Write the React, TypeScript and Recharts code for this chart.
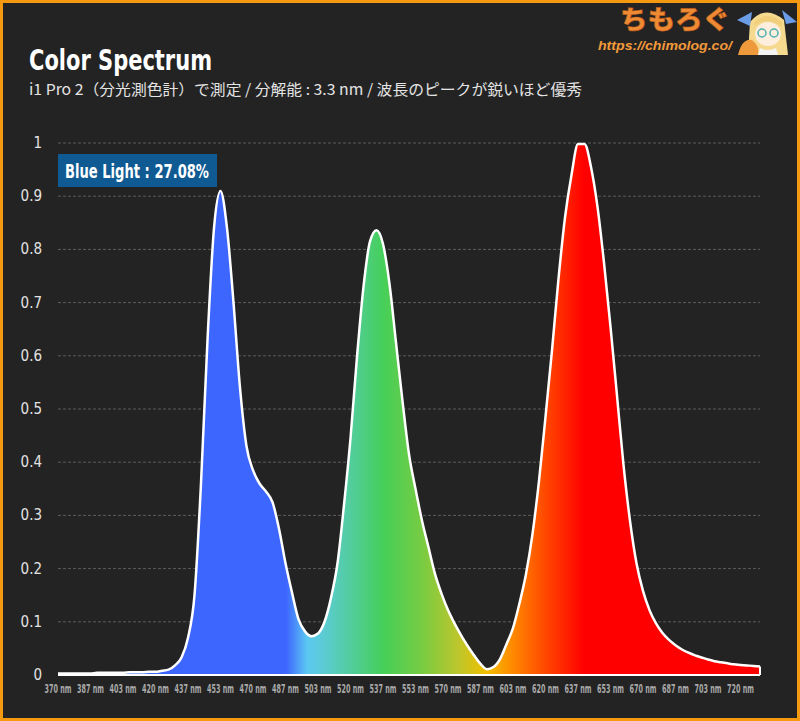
import React from 'react';
import { AreaChart, Area, XAxis, YAxis, CartesianGrid, ReferenceLine } from 'recharts';

const wavelengths = [
  370, 373.33, 376.67, 380, 383.33, 386.67, 390, 393.33, 396.67, 400,
  403.33, 406.67, 410, 413.33, 416.67, 420, 423.33, 426.67, 430, 433.33,
  436.67, 440, 443.33, 446.67, 450, 453.33, 456.67, 460, 463.33, 466.67,
  470, 473.33, 476.67, 480, 483.33, 486.67, 490, 493.33, 496.67, 500,
  503.33, 506.67, 510, 513.33, 516.67, 520, 523.33, 526.67, 530, 533.33,
  536.67, 540, 543.33, 546.67, 550, 553.33, 556.67, 560, 563.33, 566.67,
  570, 573.33, 576.67, 580, 583.33, 586.67, 590, 593.33, 596.67, 600,
  603.33, 606.67, 610, 613.33, 616.67, 620, 623.33, 626.67, 630, 633.33,
  636.67, 640, 643.33, 646.67, 650, 653.33, 656.67, 660, 663.33, 666.67,
  670, 673.33, 676.67, 680, 683.33, 686.67, 690, 693.33, 696.67, 700,
  703.33, 706.67, 710, 713.33, 716.67, 720, 723.33, 726.67, 730,
];

const intensity = [
  0.003, 0.003, 0.003, 0.003, 0.003, 0.003, 0.004, 0.004, 0.004, 0.004,
  0.004, 0.005, 0.005, 0.005, 0.006, 0.006, 0.008, 0.010, 0.018, 0.033,
  0.07, 0.15, 0.36, 0.63, 0.84, 0.91, 0.84, 0.70, 0.54, 0.43,
  0.385, 0.36, 0.345, 0.325, 0.275, 0.21, 0.155, 0.105, 0.082, 0.073,
  0.078, 0.10, 0.145, 0.21, 0.32, 0.445, 0.598, 0.73, 0.815, 0.836,
  0.81, 0.735, 0.625, 0.515, 0.415, 0.35, 0.29, 0.24, 0.19, 0.153,
  0.122, 0.097, 0.075, 0.055, 0.037, 0.021, 0.011, 0.015, 0.03, 0.058,
  0.088, 0.135, 0.19, 0.265, 0.365, 0.485, 0.61, 0.745, 0.86, 0.94,
  0.998, 0.998, 0.955, 0.88, 0.775, 0.655, 0.525, 0.395, 0.29, 0.21,
  0.158, 0.122, 0.097, 0.079, 0.066, 0.056, 0.048, 0.042, 0.037, 0.033,
  0.029, 0.026, 0.024, 0.022, 0.020, 0.019, 0.018, 0.017, 0.016,
];

const xTickValues = [
  370, 386.67, 403.33, 420, 436.67, 453.33, 470, 486.67, 503.33, 520, 536.67,
  553.33, 570, 586.67, 603.33, 620, 636.67, 653.33, 670, 686.67, 703.33, 720,
];
const xTickLabels = [
  '370 nm', '387 nm', '403 nm', '420 nm', '437 nm', '453 nm', '470 nm', '487 nm',
  '503 nm', '520 nm', '537 nm', '553 nm', '570 nm', '587 nm', '603 nm', '620 nm',
  '637 nm', '653 nm', '670 nm', '687 nm', '703 nm', '720 nm',
];
const yTickValues = [0, 0.1, 0.2, 0.3, 0.4, 0.5, 0.6, 0.7, 0.8, 0.9, 1];
const yTickLabels = ['0', '0.1', '0.2', '0.3', '0.4', '0.5', '0.6', '0.7', '0.8', '0.9', '1'];

const titleText = 'Color Spectrum';
const subtitleText = 'i1 Pro 2（分光測色計）で測定 / 分解能 : 3.3 nm / 波長のピークが鋭いほど優秀';
const badgeText = 'Blue Light : 27.08%';
const logoText = 'ちもろぐ';
const urlText = 'https://chimolog.co/';

const data = wavelengths.map((nm, i) => ({ nm, v: intensity[i] }));
const lastNm = wavelengths[wavelengths.length - 1];
const lastV = intensity[intensity.length - 1];

const NARROW = "'Liberation Sans Narrow', 'DejaVu Sans Condensed', 'Roboto', sans-serif";
const CJK = "'Noto Sans CJK JP', 'Noto Sans', sans-serif";

const XTick = (props: any) => {
  const { x, y, index } = props;
  return (
    <g transform={`translate(${x},${y})`}>
      <text
        x={0}
        y={0}
        dy={10}
        textAnchor="middle"
        fill="#a9a9a9"
        fontSize={13}
        fontWeight={700}
        fontFamily={NARROW}
        textLength={40}
        lengthAdjust="spacingAndGlyphs"
        transform="scale(0.67,1)"
      >
        {xTickLabels[index]}
      </text>
    </g>
  );
};

const YTick = (props: any) => {
  const { y, index } = props;
  return (
    <text x={42} y={y} dy={5} textAnchor="end" fill="#e2e2e2" fontSize={15} fontFamily={NARROW}>
      {yTickLabels[index]}
    </text>
  );
};

export default function App() {
  return (
    <div
      style={{
        position: 'absolute',
        left: 0,
        top: 0,
        width: 800,
        height: 721,
        background: '#232323',
        overflow: 'hidden',
      }}
    >
      <AreaChart
        width={800}
        height={721}
        data={data}
        margin={{ top: 143, right: 40, bottom: 16, left: 0 }}
      >
        <defs>
          <linearGradient id="spec" x1="0" y1="0" x2="1" y2="0">
            <stop offset="0" stopColor="#3d66ff" />
            <stop offset="0.325" stopColor="#3d66ff" />
            <stop offset="0.355" stopColor="#5cc8f2" />
            <stop offset="0.378" stopColor="#5ccbd4" />
            <stop offset="0.464" stopColor="#46cf58" />
            <stop offset="0.515" stopColor="#74cc44" />
            <stop offset="0.57" stopColor="#bcc62c" />
            <stop offset="0.611" stopColor="#f2bf00" />
            <stop offset="0.647" stopColor="#ff8a00" />
            <stop offset="0.694" stopColor="#ff4800" />
            <stop offset="0.75" stopColor="#ff0000" />
            <stop offset="1" stopColor="#ff0000" />
          </linearGradient>
        </defs>
        <CartesianGrid vertical={false} stroke="#5c5c5c" strokeDasharray="3 2" />
        <XAxis
          dataKey="nm"
          type="number"
          domain={[370, 730]}
          ticks={xTickValues}
          interval={0}
          tickLine={false}
          axisLine={{ stroke: '#ffffff', strokeWidth: 2 }}
          tick={<XTick />}
          height={30}
        />
        <YAxis
          type="number"
          domain={[0, 1]}
          ticks={yTickValues}
          interval={0}
          width={58}
          tickLine={false}
          axisLine={false}
          tick={<YTick />}
        />
        <Area
          type="monotone"
          dataKey="v"
          stroke="#ffffff"
          strokeWidth={2.5}
          fill="url(#spec)"
          fillOpacity={1}
          dot={false}
          activeDot={false}
          isAnimationActive={false}
        />
        <ReferenceLine
          segment={[
            { x: lastNm, y: 0 },
            { x: lastNm, y: lastV },
          ]}
          stroke="#ffffff"
          strokeWidth={2}
        />
      </AreaChart>

      <svg
        width={800}
        height={721}
        style={{ position: 'absolute', left: 0, top: 0, pointerEvents: 'none' }}
      >
        <text
          x={29}
          y={70}
          fill="#ffffff"
          fontSize={28}
          fontWeight={700}
          fontFamily={NARROW}
          textLength={183}
          lengthAdjust="spacingAndGlyphs"
        >
          {titleText}
        </text>
        <text
          x={29}
          y={95}
          fill="#e4e4e4"
          fontSize={15}
          fontFamily={CJK}
          textLength={553}
          lengthAdjust="spacingAndGlyphs"
        >
          {subtitleText}
        </text>
        <rect x={58} y={154} width={159} height={33} fill="#0f5a92" />
        <text
          x={65}
          y={177.5}
          fill="#ffffff"
          fontSize={19}
          fontWeight={700}
          fontFamily={NARROW}
          textLength={144}
          lengthAdjust="spacingAndGlyphs"
        >
          {badgeText}
        </text>

        {/* logo */}
        <text
          x={620}
          y={29}
          fill="#ef8a35"
          stroke="#b85a18"
          strokeWidth={0.6}
          fontSize={26}
          fontWeight={900}
          fontFamily={CJK}
          textLength={110}
          lengthAdjust="spacingAndGlyphs"
        >
          {logoText}
        </text>
        <text
          x={598}
          y={50}
          fill="#f39a3a"
          fontSize={13}
          fontWeight={700}
          fontStyle="italic"
          fontFamily="'Liberation Sans', Arial, sans-serif"
          textLength={134}
          lengthAdjust="spacingAndGlyphs"
        >
          {urlText}
        </text>
        {/* mascot */}
        <g>
          <path d="M748 55 L750 22 Q765 4 784 20 L788 55 Z" fill="#f4d98e" />
          <polygon points="737,20 752,12 750,26" fill="#6b9de6" />
          <polygon points="782,10 797,22 786,24" fill="#6b9de6" />
          <ellipse cx={768} cy={34} rx={13} ry={12} fill="#fdeede" />
          <path d="M754 26 Q768 16 782 27 L782 22 Q768 10 754 22 Z" fill="#f1cf7a" />
          <circle cx={762} cy={33} r={4} fill="none" stroke="#4fb0b0" strokeWidth={1.5} />
          <circle cx={774} cy={33} r={4} fill="none" stroke="#4fb0b0" strokeWidth={1.5} />
          <path d="M738 55 Q742 38 752 40 Q760 46 758 55 Z" fill="#ee9a3c" />
          <path d="M760 48 Q768 52 776 48 L778 55 L758 55 Z" fill="#f3f3f3" />
        </g>
      </svg>

      <div
        style={{
          position: 'absolute',
          left: 0,
          top: 0,
          width: 800,
          height: 721,
          boxSizing: 'border-box',
          border: '3px solid #f59a10',
          pointerEvents: 'none',
        }}
      />
    </div>
  );
}
